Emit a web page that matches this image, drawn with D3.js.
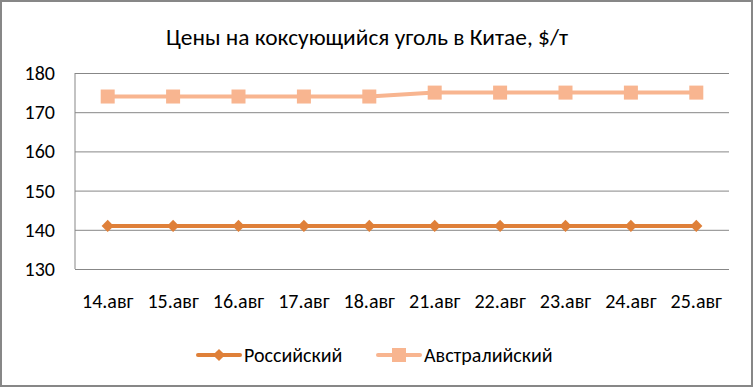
<!DOCTYPE html>
<html>
<head>
<meta charset="utf-8">
<script src="https://cdn.jsdelivr.net/npm/d3@7"></script>
<style>
  body { margin: 0; background: #fff; }
  svg { display: block; font-family: Carlito, "Open Sans", "Noto Sans", sans-serif; }
</style>
</head>
<body>
<svg id="chart" width="753" height="387"></svg>
<script>
const categories = ['14.авг', '15.авг', '16.авг', '17.авг', '18.авг', '21.авг', '22.авг', '23.авг', '24.авг', '25.авг']
const russian = [141, 141, 141, 141, 141, 141, 141, 141, 141, 141]
const australian = [174, 174, 174, 174, 174, 175, 175, 175, 175, 175]
const yTicks = [130, 140, 150, 160, 170, 180]

const series = [
  { name: 'Российский', values: russian, color: '#DF8039', marker: 'diamond' },
  { name: 'Австралийский', values: australian, color: '#F8B590', marker: 'square' }
]

const svg = d3.select('#chart')
const [W, H] = [753, 387]
const plot = { left: 75, right: 729, top: 73, bottom: 269 }
const grid_color = '#878787'
const FONT = 'Carlito, "Open Sans", "Noto Sans", sans-serif'

svg.append('rect')
  .attr('x', 1).attr('y', 1)
  .attr('width', W - 2).attr('height', H - 2)
  .attr('fill', '#fff')
  .attr('stroke', '#878787')
  .attr('stroke-width', 2)

svg.append('text')
  .attr('x', 367)
  .attr('y', 45)
  .attr('text-anchor', 'middle')
  .style('font-size', '23.4px')
  .text('Цены на коксующийся уголь в Китае, $/т')

const x = d3.scaleBand().domain(categories).range([plot.left, plot.right])
const y = d3.scaleLinear().domain([130, 180]).range([plot.bottom, plot.top])

// gridlines + y labels
const yAxis = svg.append('g')
  .attr('transform', `translate(${plot.left},0)`)
  .call(d3.axisLeft(y).tickValues(yTicks).tickSize(-(plot.right - plot.left)).tickPadding(20).tickFormat(d3.format('d')))
yAxis.select('.domain').remove()
yAxis.selectAll('.tick line').attr('stroke', grid_color)
yAxis.selectAll('.tick text')
  .attr('fill', '#000')
  .style('font-size', '20px')
  .style('font-family', FONT)

svg.append('line')
  .attr('x1', plot.left).attr('x2', plot.left)
  .attr('y1', plot.top).attr('y2', plot.bottom)
  .attr('stroke', grid_color)

// x labels
const xAxis = svg.append('g')
  .attr('transform', `translate(0,${plot.bottom})`)
  .call(d3.axisBottom(x).tickSize(0).tickPadding(25))
xAxis.select('.domain').remove()
xAxis.selectAll('.tick text')
  .attr('fill', '#000')
  .style('font-size', '20px')
  .style('font-family', FONT)

const cx = c => x(c) + x.bandwidth() / 2
const line = d3.line().x((d, i) => cx(categories[i])).y(d => y(d))

function drawMarker(g, type, px, py, color) {
  if (type === 'diamond') {
    g.append('path')
      .attr('d', d3.symbol().type(d3.symbolDiamond2).size(95)())
      .attr('transform', `translate(${px},${py})`)
      .attr('fill', color)
  } else {
    g.append('rect')
      .attr('x', px - 7).attr('y', py - 7)
      .attr('width', 14).attr('height', 14)
      .attr('fill', color)
  }
}

series.forEach(s => {
  svg.append('path')
    .datum(s.values)
    .attr('d', line)
    .attr('fill', 'none')
    .attr('stroke', s.color)
    .attr('stroke-width', 4)
  const g = svg.append('g')
  s.values.forEach((v, i) => drawMarker(g, s.marker, cx(categories[i]), y(v), s.color))
})

// legend
const legendX = [198, 378]
series.forEach((s, i) => {
  const lg = svg.append('g').attr('transform', `translate(${legendX[i]},355)`)
  lg.append('line')
    .attr('x1', 0).attr('x2', 42)
    .attr('y1', 0).attr('y2', 0)
    .attr('stroke', s.color)
    .attr('stroke-width', 4)
    .attr('stroke-linecap', 'round')
  drawMarker(lg, s.marker, 21, 0, s.color)
  lg.append('text')
    .attr('x', 46)
    .attr('y', 7)
    .style('font-size', '20px')
    .text(s.name)
})
</script>
</body>
</html>
